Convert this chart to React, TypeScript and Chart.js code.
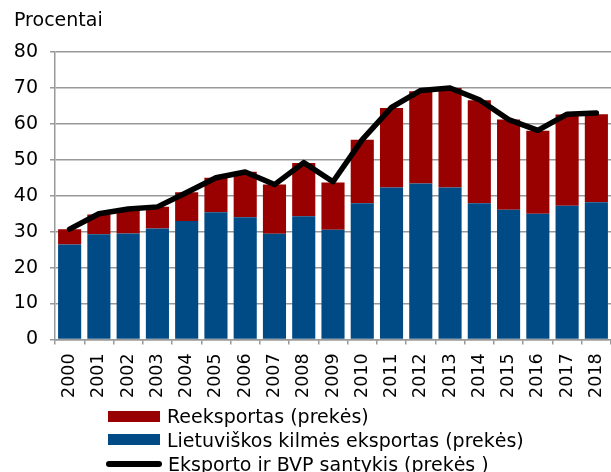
import React, { useEffect, useRef } from "react";
import { Chart, registerables } from "chart.js";

Chart.register(...registerables);

const years = ["2000","2001","2002","2003","2004","2005","2006","2007","2008","2009","2010","2011","2012","2013","2014","2015","2016","2017","2018"];
const domesticExports = [26.4, 29.3, 29.5, 30.9, 33.0, 35.4, 34.0, 29.4, 34.3, 30.5, 37.9, 42.3, 43.4, 42.3, 37.9, 36.1, 35.0, 37.2, 38.2];
const reExports = [4.3, 5.5, 6.4, 6.0, 8.0, 9.6, 12.7, 13.7, 14.8, 13.2, 17.7, 22.1, 25.7, 27.7, 28.7, 25.1, 23.1, 25.4, 24.5];
const exportToGdp = [30.7, 35.0, 36.3, 36.9, 40.9, 45.0, 46.6, 43.1, 49.2, 43.9, 55.6, 64.6, 69.3, 70.0, 66.7, 61.2, 58.2, 62.7, 63.0];

const labelRe = "Reeksportas (prekės)";
const labelDom = "Lietuviškos kilmės eksportas (prekės)";
const labelLine = "Eksporto ir BVP santykis (prekės )";
const yAxisTitle = "Procentai";

const RED = "#990000";
const BLUE = "#004B85";
const FONT = "'DejaVu Sans', sans-serif";

export default function App() {
  const ref = useRef<HTMLCanvasElement>(null);
  useEffect(() => {
    document.body.style.margin = "0";
    const ctx = ref.current!;
    const chart = new Chart(ctx, {
      type: "bar",
      data: {
        labels: years,
        datasets: [
          {
            type: "line",
            label: labelLine,
            data: exportToGdp,
            borderColor: "#000",
            borderWidth: 5.5,
            pointRadius: 0,
            tension: 0,
            borderCapStyle: "round",
            borderJoinStyle: "round",
            stack: "line",
            order: 0,
          } as any,
          {
            label: labelDom,
            data: domesticExports,
            backgroundColor: BLUE,
            stack: "bars",
            order: 1,
            categoryPercentage: 1,
            barPercentage: 0.79,
          },
          {
            label: labelRe,
            data: reExports,
            backgroundColor: RED,
            stack: "bars",
            order: 2,
            categoryPercentage: 1,
            barPercentage: 0.79,
          },
        ],
      },
      options: {
        responsive: false,
        animation: false,
        layout: { padding: { top: 52, left: 14, right: 0, bottom: 65 } },
        plugins: { legend: { display: false }, tooltip: { enabled: false } },
        scales: {
          x: {
            stacked: true,
            afterFit: (scale: any) => {
              scale.paddingRight = 0;
              scale.paddingLeft = 0;
            },
            grid: { drawOnChartArea: false, drawTicks: true, tickLength: 5, color: "#999", lineWidth: 1.5, offset: true },
            border: { color: "#999", width: 1.5 },
            ticks: { minRotation: 90, maxRotation: 90, padding: 9, color: "#000", font: { family: FONT, size: 17.5 } },
          },
          y: {
            stacked: true,
            min: 0,
            max: 80,
            afterFit: (scale: any) => {
              scale.width = 41;
            },
            grid: { color: "#999", lineWidth: 1.5, tickLength: 5 },
            border: { color: "#999", width: 1.5 },
            ticks: { stepSize: 10, padding: 12, color: "#000", font: { family: FONT, size: 19 } },
          },
        },
      },
    });
    return () => chart.destroy();
  }, []);

  const row = (top: number): React.CSSProperties => ({
    position: "absolute",
    left: 108,
    top,
    display: "flex",
    alignItems: "center",
    height: 24,
    fontFamily: FONT,
    fontSize: 19,
    color: "#000",
    whiteSpace: "nowrap",
  });
  const swatch = (color: string): React.CSSProperties => ({ width: 52, height: 11, background: color, marginRight: 7 });

  return (
    <div style={{ position: "relative", width: 611, height: 472, overflow: "hidden", background: "#fff" }}>
      <canvas ref={ref} width={611} height={472} style={{ display: "block" }} />
      <div style={{ position: "absolute", left: 14, top: 8, fontFamily: FONT, fontSize: 19, color: "#000", lineHeight: "normal" }}>{yAxisTitle}</div>
      <div style={row(404)}><div style={swatch(RED)} />{labelRe}</div>
      <div style={row(427.5)}><div style={swatch(BLUE)} />{labelDom}</div>
      <div style={{ ...row(451.5), left: 106 }}>
        <div style={{ width: 56, height: 6, background: "#000", borderRadius: 3, marginRight: 6 }} />
        {labelLine}
      </div>
    </div>
  );
}
